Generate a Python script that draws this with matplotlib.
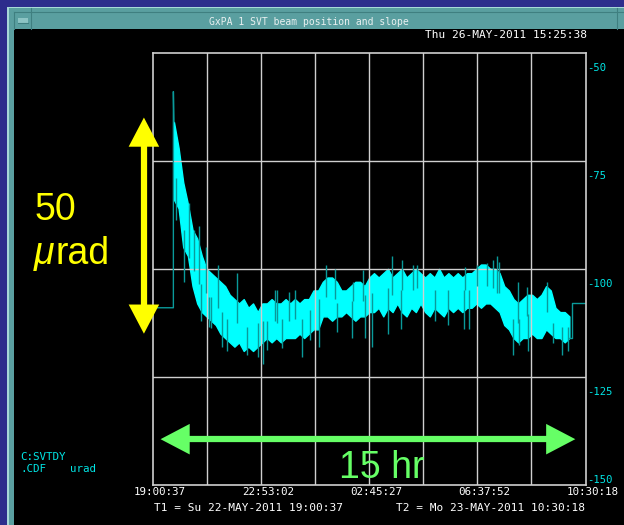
import numpy as np
import matplotlib.pyplot as plt
from matplotlib.patches import Rectangle
from matplotlib.lines import Line2D

W, H = 624, 525
MONO = 'DejaVu Sans Mono'
SANS = 'Liberation Sans'

# time axis, hours after T1 (19:00:37 -> 10:30:18)
span_hours = 15 + 29 / 60 + 41 / 3600
time_labels = ['19:00:37', '22:53:02', '02:45:27', '06:37:52', '10:30:18']
y_labels = [-50, -75, -100, -125, -150]

# SVTDY trace, 10-minute bins from 0.75 h: band top / bottom in urad
t_first = 0.75
bin_hours = 1 / 6
band_hi = [-66, -72, -80, -85, -91, -93, -97, -100, -101, -102,
           -103, -104, -106, -107, -108, -107, -109, -108, -110, -108,
           -108, -107, -108, -108, -107, -108, -107, -108, -107, -107,
           -105, -105, -103, -102, -102, -103, -105, -105, -104, -103,
           -103, -104, -102, -101, -102, -101, -100, -102, -101, -100,
           -102, -101, -100, -101, -102, -101, -102, -100, -102, -101,
           -102, -101, -102, -101, -101, -100, -99, -99, -100, -100,
           -101, -104, -105, -107, -108, -107, -106, -106, -107, -106,
           -104, -105, -109, -110, -110, -111]
band_lo = [-84, -86, -95, -97, -104, -108, -110, -111, -112, -113,
           -115, -116, -117, -118, -117, -119, -118, -119, -118, -117,
           -116, -117, -116, -117, -116, -116, -116, -115, -116, -115,
           -114, -114, -111, -111, -112, -111, -111, -110, -111, -112,
           -111, -111, -110, -110, -109, -111, -109, -110, -108, -110,
           -111, -109, -110, -108, -110, -111, -109, -110, -111, -109,
           -110, -109, -110, -109, -109, -108, -109, -108, -108, -109,
           -110, -113, -114, -116, -117, -116, -116, -115, -116, -116,
           -114, -115, -116, -116, -117, -116]

# single excursions outside the band: (hours, urad)
spike_t = [0.82, 1.11, 1.29, 1.47, 1.65, 1.72, 1.90, 2.00, 2.08, 2.33,
           2.47, 2.65, 3.01, 3.36, 3.76, 3.94, 4.08, 4.37, 4.44, 4.62,
           4.87, 5.08, 5.33, 5.62, 5.94, 6.19, 6.51, 6.59, 7.12, 7.16,
           7.52, 7.59, 7.84, 8.41, 8.55, 8.88, 8.91, 9.31, 9.45, 10.09,
           10.56, 11.13, 11.17, 11.31, 11.60, 11.95, 12.17, 12.31, 12.38, 12.88,
           13.06, 13.12, 13.39, 13.42, 14.10, 14.32, 14.64, 14.85]
spike_v = [-88.7, -103, -84.8, -91, -90, -112, -95, -113.5, -113.7, -99,
           -118, -119, -101, -120, -120.4, -122, -118.8, -104.9, -105, -118.3,
           -105.3, -105, -120.5, -116.4, -118, -99, -100, -114.6, -116, -103,
           -100.3, -116, -118, -115, -97, -114, -98, -99, -99, -112,
           -113, -114, -99.5, -114, -99, -98.7, -98, -97, -98.4, -120,
           -103, -117.6, -104.2, -119, -103, -117.1, -120, -119]

# value held before the first and after the last sample
pre_value, pre_end, first_peak = -109, 0.73, -59
post_value, post_start = -108, 15.0


def fx(x):
    return x / W


def fy(y):
    return 1 - y / H


def rect(fig, x0, y0, x1, y1, color):
    fig.add_artist(Rectangle((fx(x0), fy(y1)), (x1 - x0) / W, (y1 - y0) / H,
                             transform=fig.transFigure, color=color, lw=0))


def hline(fig, x0, x1, y, color, lw=1):
    fig.add_artist(Line2D([fx(x0), fx(x1)], [fy(y), fy(y)],
                          transform=fig.transFigure, color=color, lw=lw))


def vline(fig, x, y0, y1, color, lw=1):
    fig.add_artist(Line2D([fx(x), fx(x)], [fy(y0), fy(y1)],
                          transform=fig.transFigure, color=color, lw=lw))


fig = plt.figure(figsize=(W / 100, H / 100), dpi=100, facecolor='black')

# window decoration
blue, teal, light, dark = '#2d2d8c', '#5a9fa0', '#a8d8d8', '#3f7f80'
rect(fig, 0, 0, W, 6.5, blue)
rect(fig, 0, 0, 7.3, H, blue)
rect(fig, 7.3, 6.5, W, 29, light)
rect(fig, 7.3, 6.5, 9, H, light)
rect(fig, 9, 8, W, 29, teal)
rect(fig, 9, 8, 14, H, teal)
hline(fig, 14, W, 12.3, dark, 0.8)
vline(fig, 14, 12.3, 29, dark, 0.8)
vline(fig, 31, 8, 29, dark, 0.8)
vline(fig, 617, 8, 29, dark, 0.8)
rect(fig, 17.5, 18.5, 28, 22.5, '#8cc4c4')
hline(fig, 17.5, 28, 22.7, dark, 0.8)
fig.text(fx(309), fy(22), 'GxPA 1 SVT beam position and slope', family=MONO,
         fontsize=7, color='#e8f0f0', ha='center', va='center')
fig.text(fx(587), fy(35), 'Thu 26-MAY-2011 15:25:38', family=MONO,
         fontsize=8, color='white', ha='right', va='center')

ax = fig.add_axes([fx(153), fy(485), 432.5 / W, 432.3 / H])
ax.set_facecolor('black')
ax.set_xlim(0, span_hours)
ax.set_ylim(-150, -50)

grid_col = '#cfcfcf'
for s in ax.spines.values():
    s.set_color(grid_col)
    s.set_linewidth(1.2)
ax.set_xticks(np.arange(1, 8) * span_hours / 8)
ax.set_yticks([-125, -100, -75])
ax.tick_params(length=0, labelbottom=False, labelleft=False)
ax.grid(True, color=grid_col, lw=1)

# trace
t = t_first + np.arange(len(band_hi)) * bin_hours
hi = np.array(band_hi)
lo = np.array(band_lo)
trace_col, edge_col = '#00ffff', '#0a9a9a'
ax.plot([0, pre_end, pre_end, t[0]], [pre_value, pre_value, first_peak, hi[0]],
        color=edge_col, lw=1)
ax.plot([t[-1], post_start, post_start, span_hours],
        [lo[-1], lo[-1], post_value, post_value], color=edge_col, lw=1)
idx = np.clip(np.searchsorted(t, spike_t), 0, len(t) - 1)
ax.vlines(spike_t, (hi[idx] + lo[idx]) / 2, spike_v, color=edge_col, lw=1)
ax.fill_between(t, lo, hi, color=trace_col, lw=1, edgecolor=trace_col)

# axis labels
for i, lab in enumerate(time_labels):
    ax.annotate(lab, xy=(i * span_hours / 4, 0), xycoords=('data', 'axes fraction'),
                xytext=(7, -7), textcoords='offset pixels', ha='center', va='center',
                family=MONO, fontsize=7.8, color='white', annotation_clip=False)
for v in y_labels:
    dy = 5 if v == -150 else -15
    ax.annotate('%d' % v, xy=(1, v), xycoords=('axes fraction', 'data'),
                xytext=(1.5, dy), textcoords='offset pixels', ha='left', va='center',
                family=MONO, fontsize=7.6, color='#00e5e5', annotation_clip=False)

fig.text(fx(154), fy(508), 'T1 = Su 22-MAY-2011 19:00:37', family=MONO,
         fontsize=8, color='white', ha='left', va='center')
fig.text(fx(396), fy(508), 'T2 = Mo 23-MAY-2011 10:30:18', family=MONO,
         fontsize=8, color='white', ha='left', va='center')
fig.text(fx(20), fy(457), 'C:SVTDY', family=MONO, fontsize=7.8,
         color='#00e5e5', ha='left', va='center')
fig.text(fx(20), fy(469), '.CDF', family=MONO, fontsize=7.8,
         color='#00e5e5', ha='left', va='center')
fig.text(fx(70), fy(469), 'urad', family=MONO, fontsize=7.8,
         color='#00e5e5', ha='left', va='center')

# 50 urad arrow
yellow = '#ffff00'
arr_top, arr_bot, arr_x = -65, -115, -0.021
head = dict(arrowstyle='<|-|>,head_length=21,head_width=11', mutation_scale=1,
            color=yellow, lw=0, shrinkA=0, shrinkB=0)
ax.annotate('', xy=(arr_x, arr_top), xytext=(arr_x, arr_bot),
            xycoords=('axes fraction', 'data'), arrowprops=head, annotation_clip=False)
ax.plot([arr_x, arr_x], [arr_top - 5, arr_bot + 5], color=yellow, lw=4.5,
        solid_capstyle='butt', transform=ax.get_yaxis_transform(), clip_on=False)
fig.text(fx(35), fy(220), '50', family=SANS, fontsize=27, color=yellow,
         ha='left', va='baseline')
fig.text(fx(34), fy(264), '\u03bc', family=SANS, fontsize=27, style='italic',
         color=yellow, ha='left', va='baseline')
fig.text(fx(56), fy(264), 'rad', family=SANS, fontsize=27, color=yellow,
         ha='left', va='baseline')

# 15 hr arrow
green = '#66ff66'
g_left, g_right, g_y = 0.27, 15.13, -139.4
head_g = dict(head, color=green)
ax.annotate('', xy=(g_left, g_y), xytext=(g_right, g_y), arrowprops=head_g,
            annotation_clip=False)
ax.plot([g_left + 0.8, g_right - 0.8], [g_y, g_y], color=green, lw=4.5,
        solid_capstyle='butt')
ax.text(8.2, -148.3, '15 hr', family=SANS, fontsize=27, color=green,
        ha='center', va='baseline')

fig.savefig('out.png', dpi=100, facecolor='black')
